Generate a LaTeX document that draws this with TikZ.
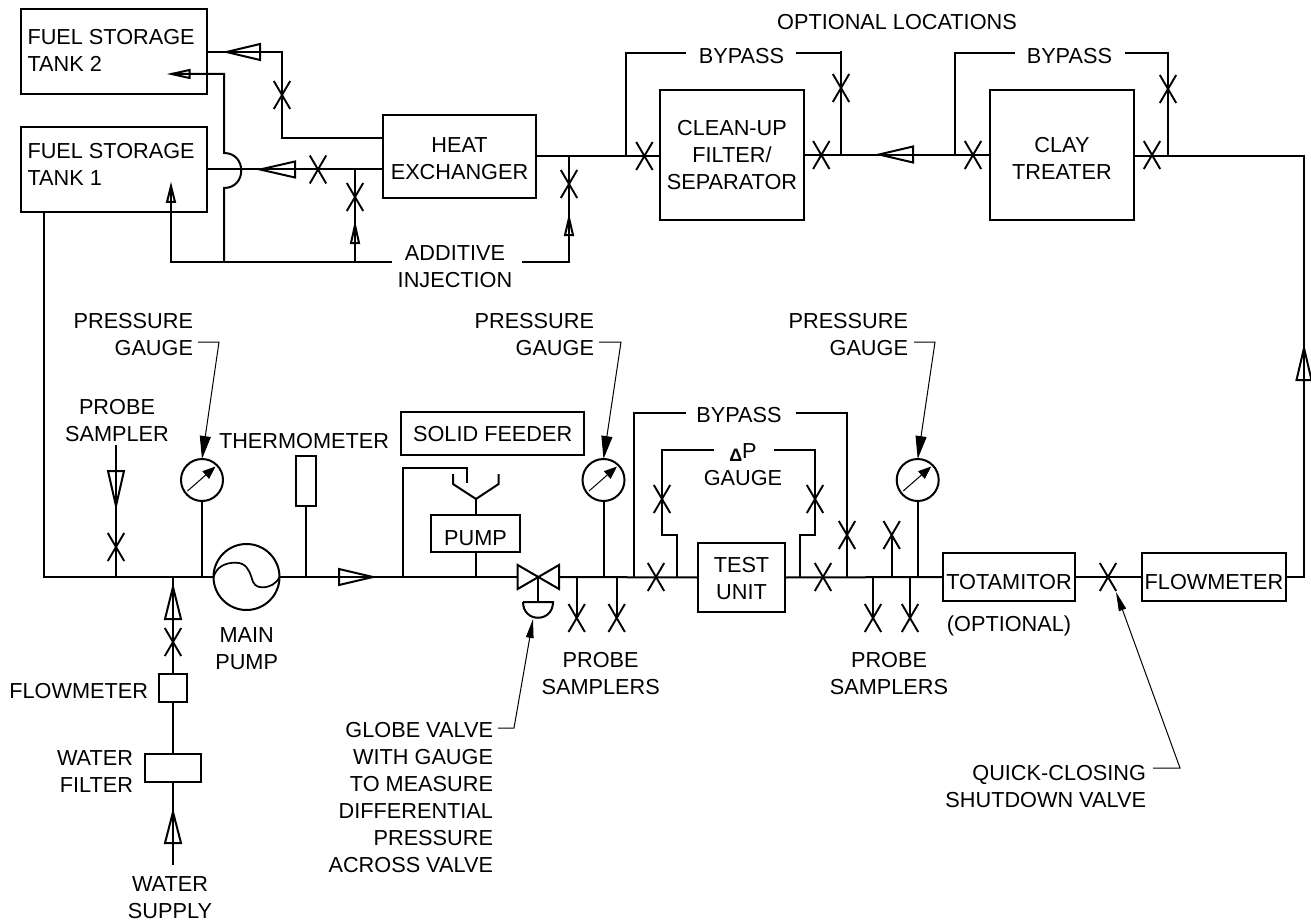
\documentclass[tikz,border=0pt]{standalone}
\usepackage{fontspec}
\setmainfont{Liberation Sans}
\usetikzlibrary{arrows.meta}
\newcommand\tx[3][c]{\raisebox{#2pt}[0pt][0pt]{\begin{tabular}[t]{@{}#1@{}}#3\end{tabular}}}
\newcommand\htri[4]{\draw[pipe] (#1,#3) -- (#2,#3-#4) -- (#2,#3+#4) -- cycle;}
\newcommand\vtri[4]{\draw[pipe] (#1,#2) -- (#1-#4,#3) -- (#1+#4,#3) -- cycle;}
\tikzset{
  x=1pt,y=-1pt,
  pipe/.style={line width=2pt,line join=miter,miter limit=6},
  lead/.style={line width=1pt},
  tiplead/.style={lead,-{Triangle[length=23pt,width=11pt]}},
  tipleadsmall/.style={lead,-{Triangle[length=19pt,width=7.5pt]}},
  every node/.style={inner sep=0pt,outer sep=0pt,font=\fontsize{21.7}{27}\selectfont},
  box/.style={draw,rectangle,line width=2pt},
  lbl/.style={},
  valve/.style={rectangle,minimum width=19pt,minimum height=31pt,path picture={
    \draw[line width=1.9pt] ([shift={(-8.2,-14)}]path picture bounding box.center) -- ([shift={(8.2,14)}]path picture bounding box.center)
      ([shift={(8.2,-14)}]path picture bounding box.center) -- ([shift={(-8.2,14)}]path picture bounding box.center);}},
  gauge/.style={draw,circle,line width=2pt,minimum size=42pt},
}
\begin{document}
\begin{tikzpicture}
\useasboundingbox[fill=white] (0,0) rectangle (1311,920);
% boxes
\node[box,minimum width=186pt,minimum height=85pt] (tank2) at (114,51.5) {\tx[p{173pt}]{6.5}{FUEL STORAGE\\TANK 2}};
\node[box,minimum width=186pt,minimum height=85pt] (tank1) at (114,169.5) {\tx[p{173pt}]{10.5}{FUEL STORAGE\\TANK 1}};
\node[box,minimum width=153pt,minimum height=83pt] (heat) at (459.5,156.5) {\tx{3.5}{HEAT\\EXCHANGER}};
\node[box,minimum width=144pt,minimum height=130pt] (clean) at (732,155) {\tx{19}{CLEAN-UP\\FILTER/\\SEPARATOR}};
\node[box,minimum width=144pt,minimum height=130pt] (clay) at (1062,155) {\tx{2}{CLAY\\TREATER}};
\node[box,minimum width=87pt,minimum height=69pt] (test) at (741.5,577.5) {\tx{4.8}{TEST\\UNIT}};
\node[box,minimum width=132pt,minimum height=48pt] (tot) at (1009,577) {\tx{-12}{TOTAMITOR}};
\node[box,minimum width=144pt,minimum height=48pt] (flow) at (1214,577) {\tx{-12}{FLOWMETER}};
\node[box,minimum width=28pt,minimum height=28pt] (fmw) at (173,688) {};
\node[box,minimum width=56pt,minimum height=28pt] (wf) at (173,768) {};
\node[box,minimum width=182.6pt,minimum height=43pt] (solid) at (492.7,433.5) {\tx{-7.5}{SOLID FEEDER}};
\node[box,minimum width=89pt,minimum height=37pt] (pumpbox) at (475.5,533.5) {\tx{-11.5}{PUMP}};
\node[box,minimum width=20pt,minimum height=50pt] (therm) at (305.5,481) {};
% round symbols
\node[draw,circle,line width=2pt,minimum size=66pt] (mainp) at (246.5,577) {};
\node[gauge] (g1) at (202,480) {};
\node[gauge] (g2) at (603.5,480) {};
\node[gauge] (g3) at (917.7,480) {};
% valves
\node[valve] (vT2) at (282,95) {};
\node[valve] (vT1) at (318,169.5) {};
\node[valve] (vA1) at (355,197) {};
\node[valve] (vA2) at (569,184) {};
\node[valve] (vC1) at (644.4,156) {};
\node[valve] (vC2) at (821.3,155) {};
\node[valve] (vB1) at (841,88) {};
\node[valve] (vD1) at (973,155) {};
\node[valve] (vD2) at (1152,155) {};
\node[valve] (vB2) at (1168,89) {};
\node[valve] (vP) at (116,547) {};
\node[valve] (vW) at (173,642) {};
\node[valve] (vS1) at (576.7,618) {};
\node[valve] (vS2) at (616.7,618) {};
\node[valve] (vM1) at (656,577) {};
\node[valve] (vM2) at (823,577) {};
\node[valve] (vDP1) at (662,499) {};
\node[valve] (vDP2) at (815,499) {};
\node[valve] (vB3) at (847,535) {};
\node[valve] (vS3) at (891.7,535) {};
\node[valve] (vS4) at (873,618) {};
\node[valve] (vS5) at (910,618) {};
\node[valve] (vQ) at (1108,577) {};
% labels
\node[lbl] (lOpt) at (897,30) {\tx{0}{OPTIONAL LOCATIONS}};
\node[lbl] (lBy1) at (741.5,63.5) {\tx{0}{BYPASS}};
\node[lbl] (lBy2) at (1069.4,63.5) {\tx{0}{BYPASS}};
\node[lbl] (lAdd) at (455,260) {\tx{0}{ADDITIVE\\INJECTION}};
\node[lbl] (lPG1) at (193,328) [anchor=east] {\tx[r]{0}{PRESSURE\\GAUGE}};
\node[lbl] (lPG2) at (594,328) [anchor=east] {\tx[r]{0}{PRESSURE\\GAUGE}};
\node[lbl] (lPG3) at (908,328) [anchor=east] {\tx[r]{0}{PRESSURE\\GAUGE}};
\node[lbl] (lPS) at (117,414) {\tx{0}{PROBE\\SAMPLER}};
\node[lbl] (lTh) at (304,448) {\tx{0}{THERMOMETER}};
\node[lbl] (lBy3) at (739,422) {\tx{0}{BYPASS}};
\node[lbl] (lDP) at (743,458) {\tx{0}{\raisebox{-3pt}{\fontsize{18}{27}\selectfont\bfseries Δ}P\\GAUGE}};
\node[lbl] (lMP) at (246.7,642) {\tx{0}{MAIN\\PUMP}};
\node[lbl] (lOp) at (1009,631.7) {\tx{0}{(OPTIONAL)}};
\node[lbl] (lPS1) at (600.7,667) {\tx{0}{PROBE\\SAMPLERS}};
\node[lbl] (lPS2) at (889,667) {\tx{0}{PROBE\\SAMPLERS}};
\node[lbl] (lFm) at (148,698) [anchor=east] {\tx{0}{FLOWMETER}};
\node[lbl] (lWF) at (133,765) [anchor=east] {\tx[r]{0}{WATER\\FILTER}};
\node[lbl] (lWS) at (170,891) {\tx{0}{WATER\\SUPPLY}};
\node[lbl] (lGl) at (493,737) [anchor=east] {\tx[r]{0}{GLOBE VALVE\\WITH GAUGE\\TO MEASURE\\DIFFERENTIAL\\PRESSURE\\ACROSS VALVE}};
\node[lbl] (lQ) at (1146,780.7) [anchor=east] {\tx[r]{0}{QUICK-CLOSING\\SHUTDOWN VALVE}};
% named junctions
\coordinate (jT2a) at (282,52);
\coordinate (jT2b) at (282,138);
\coordinate (jHeatL) at (383,138);
\coordinate (jAdd0) at (171,261.5);
\coordinate (jAddHop) at (224,261.5);
\coordinate (jAdd1) at (355,261.5);
\coordinate (jAdd2) at (392,261.5);
\coordinate (jAdd3) at (522,261.5);
\coordinate (jAdd4) at (569,261.5);
\coordinate (jTop1) at (569,156);
\coordinate (jHop1) at (224,188);
\coordinate (jHop2) at (224,153);
\coordinate (jFeed2) at (224,74);
\coordinate (jFeedTip) at (171.5,74);
\coordinate (jFeed1Tip) at (171,186);
\coordinate (j355) at (355,169.5);
\coordinate (jM0) at (43.6,577);
\coordinate (jT1b) at (43.6,212);
\coordinate (jPS0) at (116,445);
\coordinate (jPS1) at (116,577);
\coordinate (jW) at (173,577);
\coordinate (jWS) at (173,865);
\coordinate (jG1) at (202,577);
\coordinate (jTh) at (305.5,577);
\coordinate (jF0) at (403,577);
\coordinate (jF1) at (403,468);
\coordinate (jF2) at (466.5,468);
\coordinate (jF3) at (466.5,483);
\coordinate (jFunnel) at (476,499);
\coordinate (jPm) at (475.5,577);
\coordinate (jGlL) at (517.7,577);
\coordinate (jGlR) at (559,577);
\coordinate (jGl) at (538,577);
\coordinate (jGlB) at (538,602);
\coordinate (jS1) at (576.7,577);
\coordinate (jS2) at (616.7,577);
\coordinate (jG2) at (603.5,577);
\coordinate (jBy0) at (634,577);
\coordinate (jBy1) at (634,413);
\coordinate (jBy2) at (686,413);
\coordinate (jBy3) at (795.7,413);
\coordinate (jBy4) at (847,413);
\coordinate (jBy5) at (847,577);
\coordinate (jD0) at (676.7,577);
\coordinate (jD1) at (676.7,535);
\coordinate (jD2) at (662,535);
\coordinate (jD3) at (662,450);
\coordinate (jD4) at (714,450);
\coordinate (jD5) at (774,450);
\coordinate (jD6) at (815,450);
\coordinate (jD7) at (815,535);
\coordinate (jD8) at (800,535);
\coordinate (jD9) at (800,577);
\coordinate (jS3) at (891.7,577);
\coordinate (jS4) at (873,577);
\coordinate (jS5) at (910,577);
\coordinate (jG3) at (917.7,577);
\coordinate (jR0) at (1304,577);
\coordinate (jR1) at (1304,156);
\coordinate (jC1a) at (626.3,156);
\coordinate (jC1b) at (626.3,53.5);
\coordinate (jC1c) at (686,53.5);
\coordinate (jC1d) at (796,53.5);
\coordinate (jC1e) at (841,53.5);
\coordinate (jC1f) at (841,155);
\coordinate (jC1g) at (841,51);
\coordinate (jC2a) at (954.6,154.5);
\coordinate (jC2b) at (954.6,53.5);
\coordinate (jC2c) at (1015,53.5);
\coordinate (jC2d) at (1125,53.5);
\coordinate (jC2e) at (1168,53.5);
\coordinate (jC2f) at (1168,156);
% upper piping
\draw[pipe] (jHeatL) -- (jT2b) -- (jT2a) -- (207,52);
\draw[pipe] (heat.west|-tank1) -- (tank1.east);
\draw[pipe] (jAdd1) -- (j355);
\draw[pipe] (jFeed1Tip) -- (jAdd0) -- (jAdd2);
\draw[pipe] (jAdd3) -- (jAdd4) -- (jTop1);
\draw[pipe] (jAddHop) -- (jHop1) .. controls +(23,0) and +(23,0) .. (jHop2) -- (jFeed2) -- (jFeedTip);
\draw[pipe] (heat.east|-jTop1) -- (clean.west|-jTop1);
\draw[pipe] (clean.east|-jC1f) -- (clay.west|-jC1f);
\draw[pipe] (clay.east|-jR1) -- (jR1) -- (jR0) -- (flow.east);
\draw[pipe] (jC1a) -- (jC1b) -- (jC1c);
\draw[pipe] (jC1d) -- (jC1e);
\draw[pipe] (jC1g) -- (jC1f);
\draw[pipe] (jC2a) -- (jC2b) -- (jC2c);
\draw[pipe] (jC2d) -- (jC2e) -- (jC2f);
% main line
\draw[pipe] (jT1b) -- (jM0) -- (mainp.west);
\draw[pipe] (mainp.east) -- (jGlL);
\draw[pipe] (jGlR) -- (test.west);
\draw[pipe] (test.east) -- (tot.west);
\draw[pipe] (tot.east) -- (flow.west);
\draw[pipe] (jPS0) -- (jPS1);
\draw[pipe] (jWS) -- (wf.south);
\draw[pipe] (wf.north) -- (fmw.south);
\draw[pipe] (fmw.north) -- (jW);
\draw[pipe] (g1.south) -- (jG1);
\draw[pipe] (therm.south) -- (jTh);
\draw[pipe] (jF0) -- (jF1) -- (jF2) -- (jF3);
\draw[pipe] (jFunnel) -- (pumpbox.north-|jFunnel);
\draw[pipe] (pumpbox.south-|jPm) -- (jPm);
\draw[pipe] (453,474) -- (453,484) -- (jFunnel) -- (498.6,484) -- (498.6,474);
\draw[pipe] (517.7,565) -- (517.7,589) -- (559,565) -- (559,589) -- cycle;
\draw[pipe] (jGl) -- (jGlB);
\draw[pipe] (523,602) -- (553,602) .. controls (553,623) and (523,623) .. (523,602);
\draw[pipe] (g2.south) -- (jG2);
\draw[pipe] (g3.south) -- (jG3);
\draw[pipe] (jS1) -- (vS1.center);
\draw[pipe] (jS2) -- (vS2.center);
\draw[pipe] (jS4) -- (vS4.center);
\draw[pipe] (jS5) -- (vS5.center);
\draw[pipe] (jS3) -- (vS3.center);
\draw[pipe] (jBy0) -- (jBy1) -- (jBy2);
\draw[pipe] (jBy3) -- (jBy4) -- (jBy5);
\draw[pipe] (jD0) -- (jD1) -- (jD2) -- (jD3) -- (jD4);
\draw[pipe] (jD5) -- (jD6) -- (jD7) -- (jD8) -- (jD9);
% pump curve
\draw[line width=1.7pt] (mainp.west) .. controls (217,566) and (226,562.7) .. (235.4,562.7) .. controls (246,562.7) and (249,570) .. (251.4,577) .. controls (253,584) and (256,587.3) .. (262,587.3) .. controls (270,587.3) and (276,584) .. (mainp.east);
% gauge needles
\draw[lead,-{Triangle[length=13pt,width=10pt]}] (187.5,491) -- (215.5,466.5);
\draw[lead,-{Triangle[length=13pt,width=10pt]}] (589,491) -- (617,466.5);
\draw[lead,-{Triangle[length=13pt,width=10pt]}] (903.2,491) -- (931.2,466.5);
% leaders
\draw[tiplead] (198,342) -- (219,342) -- (g1.north);
\draw[tiplead] (599,342) -- (621,342) -- (g2.north);
\draw[tiplead] (914,342) -- (935,342) -- (g3.north);
\draw[tipleadsmall] (498,728) -- (514,728) -- (533,619);
\draw[tipleadsmall] (1153,768) -- (1180,768) -- (1116,592);
% flow arrows
\htri{226.5}{260}{52}{8}
\htri{260}{295}{169.5}{8}
\htri{879}{913}{154.5}{8}
\htri{373}{339}{577}{8}
\htri{171.5}{189.5}{74}{4}
\vtri{171}{186}{202}{4}
\vtri{355}{225}{243}{4}
\vtri{569}{218}{235}{4}
\vtri{116}{506}{471}{8}
\vtri{173}{587}{619}{8}
\vtri{173}{812}{843}{8}
\vtri{1304}{348}{380}{7.5}
\end{tikzpicture}
\end{document}
